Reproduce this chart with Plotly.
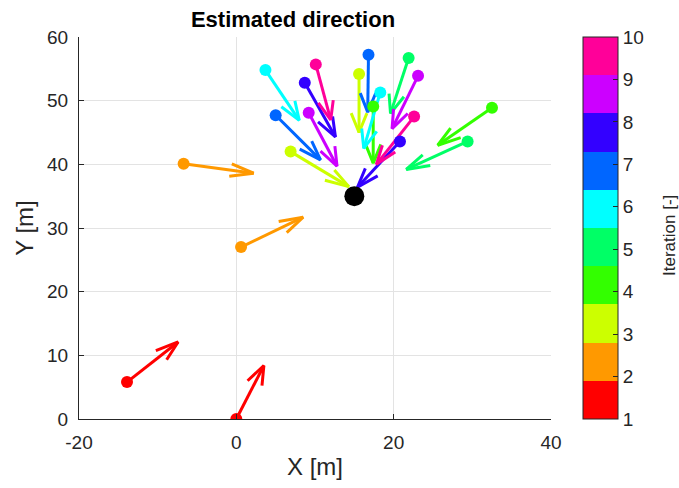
import plotly.graph_objects as go

# Iteration index of each estimate (two estimates per iteration)
iteration = [1, 1, 2, 2, 3, 3, 4, 4, 5, 5, 6, 6, 7, 7, 8, 8, 9, 9, 10, 10]

# Estimate positions [m]
x_start = [-13.9, 0.0, -6.7, 0.6, 6.9, 15.6, 17.4, 32.5, 21.9, 29.4,
           3.7, 18.3, 5.0, 16.8, 8.7, 20.8, 9.2, 23.1, 10.1, 22.6]
y_start = [5.8, 0.0, 40.1, 27.0, 42.0, 54.2, 49.1, 48.9, 56.7, 43.6,
           54.8, 51.3, 47.7, 57.2, 52.8, 43.6, 48.1, 53.9, 55.7, 47.5]

# Estimated direction vectors [m]
dx = [6.5, 3.5, 8.9, 7.9, 7.4, 0.0, 0.0, -6.9, -2.3, -7.8,
      4.3, -2.1, 5.7, -0.1, 3.9, -5.4, 3.6, -3.3, 1.9, -4.8]
dy = [6.3, 8.4, -1.5, 4.7, -5.5, -9.2, -8.9, -5.9, -8.7, -4.4,
      -7.9, -8.8, -7.0, -9.0, -8.5, -7.2, -8.4, -8.3, -8.7, -7.5]

# True source position [m]
source_x = [15.0]
source_y = [35.0]

cbar_ticks = [1, 2, 3, 4, 5, 6, 7, 8, 9, 10]
x_ticks = [-20, 0, 20, 40]
x_ticktext = ["-20", "0", "20", "40"]
y_ticks = [0, 10, 20, 30, 40, 50, 60]

# hsv(10) colour map
palette = ["#ff0000", "#ff9900", "#ccff00", "#33ff00", "#00ff66",
           "#00ffff", "#0066ff", "#3300ff", "#cc00ff", "#ff0099"]

n_col = len(palette)
colorscale = []
for i, c in enumerate(palette):
    colorscale.append([i / n_col, c])
    colorscale.append([(i + 1) / n_col, c])

FONT = "Liberation Sans, Arial, Helvetica"
INK = "#262626"

fig = go.Figure()

# quiver-style arrows: shaft plus two barbs (head size relative to length)
alpha, beta = 0.33, 0.33
for x0, y0, u, v, it in zip(x_start, y_start, dx, dy, iteration):
    x1, y1 = x0 + u, y0 + v
    hx1 = x1 - alpha * (u + beta * v)
    hy1 = y1 - alpha * (v - beta * u)
    hx2 = x1 - alpha * (u - beta * v)
    hy2 = y1 - alpha * (v + beta * u)
    fig.add_trace(go.Scatter(
        x=[x0, x1, None, hx1, x1, hx2],
        y=[y0, y1, None, hy1, y1, hy2],
        mode="lines",
        line=dict(color=palette[it - 1], width=3),
        hoverinfo="skip",
        showlegend=False,
    ))

# estimate positions coloured by iteration, with colour bar
fig.add_trace(go.Scatter(
    x=x_start, y=y_start, mode="markers",
    marker=dict(
        size=12, color=iteration, colorscale=colorscale, cmin=1, cmax=10,
        line=dict(width=0),
        colorbar=dict(
            x=(583 - 79) / 472, xanchor="left", xpad=0,
            y=0.5, yanchor="middle", ypad=0, len=1, lenmode="fraction",
            thickness=35, thicknessmode="pixels",
            outlinewidth=1, outlinecolor=INK,
            tickmode="array", tickvals=cbar_ticks,
            ticks="inside", ticklen=5, tickcolor=INK,
            tickfont=dict(family=FONT, size=19, color=INK),
        ),
    ),
    showlegend=False,
))

# source
fig.add_trace(go.Scatter(
    x=source_x, y=source_y, mode="markers",
    marker=dict(size=20, color="black"),
    showlegend=False,
))

axis_font = dict(family=FONT, size=19, color=INK)
title_font = dict(family=FONT, size=24, color=INK)
fig.update_xaxes(
    range=[-20, 40], tickvals=x_ticks, ticktext=x_ticktext,
    showgrid=True, gridcolor="#e3e3e3",
    gridwidth=1, zeroline=False, showline=True, linecolor=INK,
    linewidth=1, ticks="inside", ticklen=5, tickcolor=INK,
    tickfont=axis_font, ticklabelstandoff=6,
    title=dict(text="X [m]", font=title_font, standoff=6),
)
fig.update_yaxes(
    range=[0, 60], tickvals=y_ticks, showgrid=True, gridcolor="#e3e3e3",
    gridwidth=1, zeroline=False, showline=True, linecolor=INK,
    linewidth=1, ticks="inside", ticklen=5, tickcolor=INK,
    tickfont=axis_font, ticklabelstandoff=6,
    title=dict(text="Y [m]", font=title_font, standoff=6),
)

fig.add_annotation(
    text="Iteration [-]", textangle=-90, showarrow=False,
    xref="paper", yref="paper", x=(670 - 79) / 472, y=(421 - 237) / 384,
    xanchor="center", yanchor="middle",
    font=dict(family=FONT, size=17, color=INK),
)

fig.update_layout(
    width=679, height=488, autosize=False,
    margin=dict(l=79, r=128, t=37, b=67),
    plot_bgcolor="white", paper_bgcolor="white",
    title=dict(
        text="<b>Estimated direction</b>", x=293 / 679, xanchor="center",
        y=1 - 19 / 488, yanchor="middle",
        font=dict(family=FONT, size=22, color="black"),
    ),
)

fig.write_html("out.html")
